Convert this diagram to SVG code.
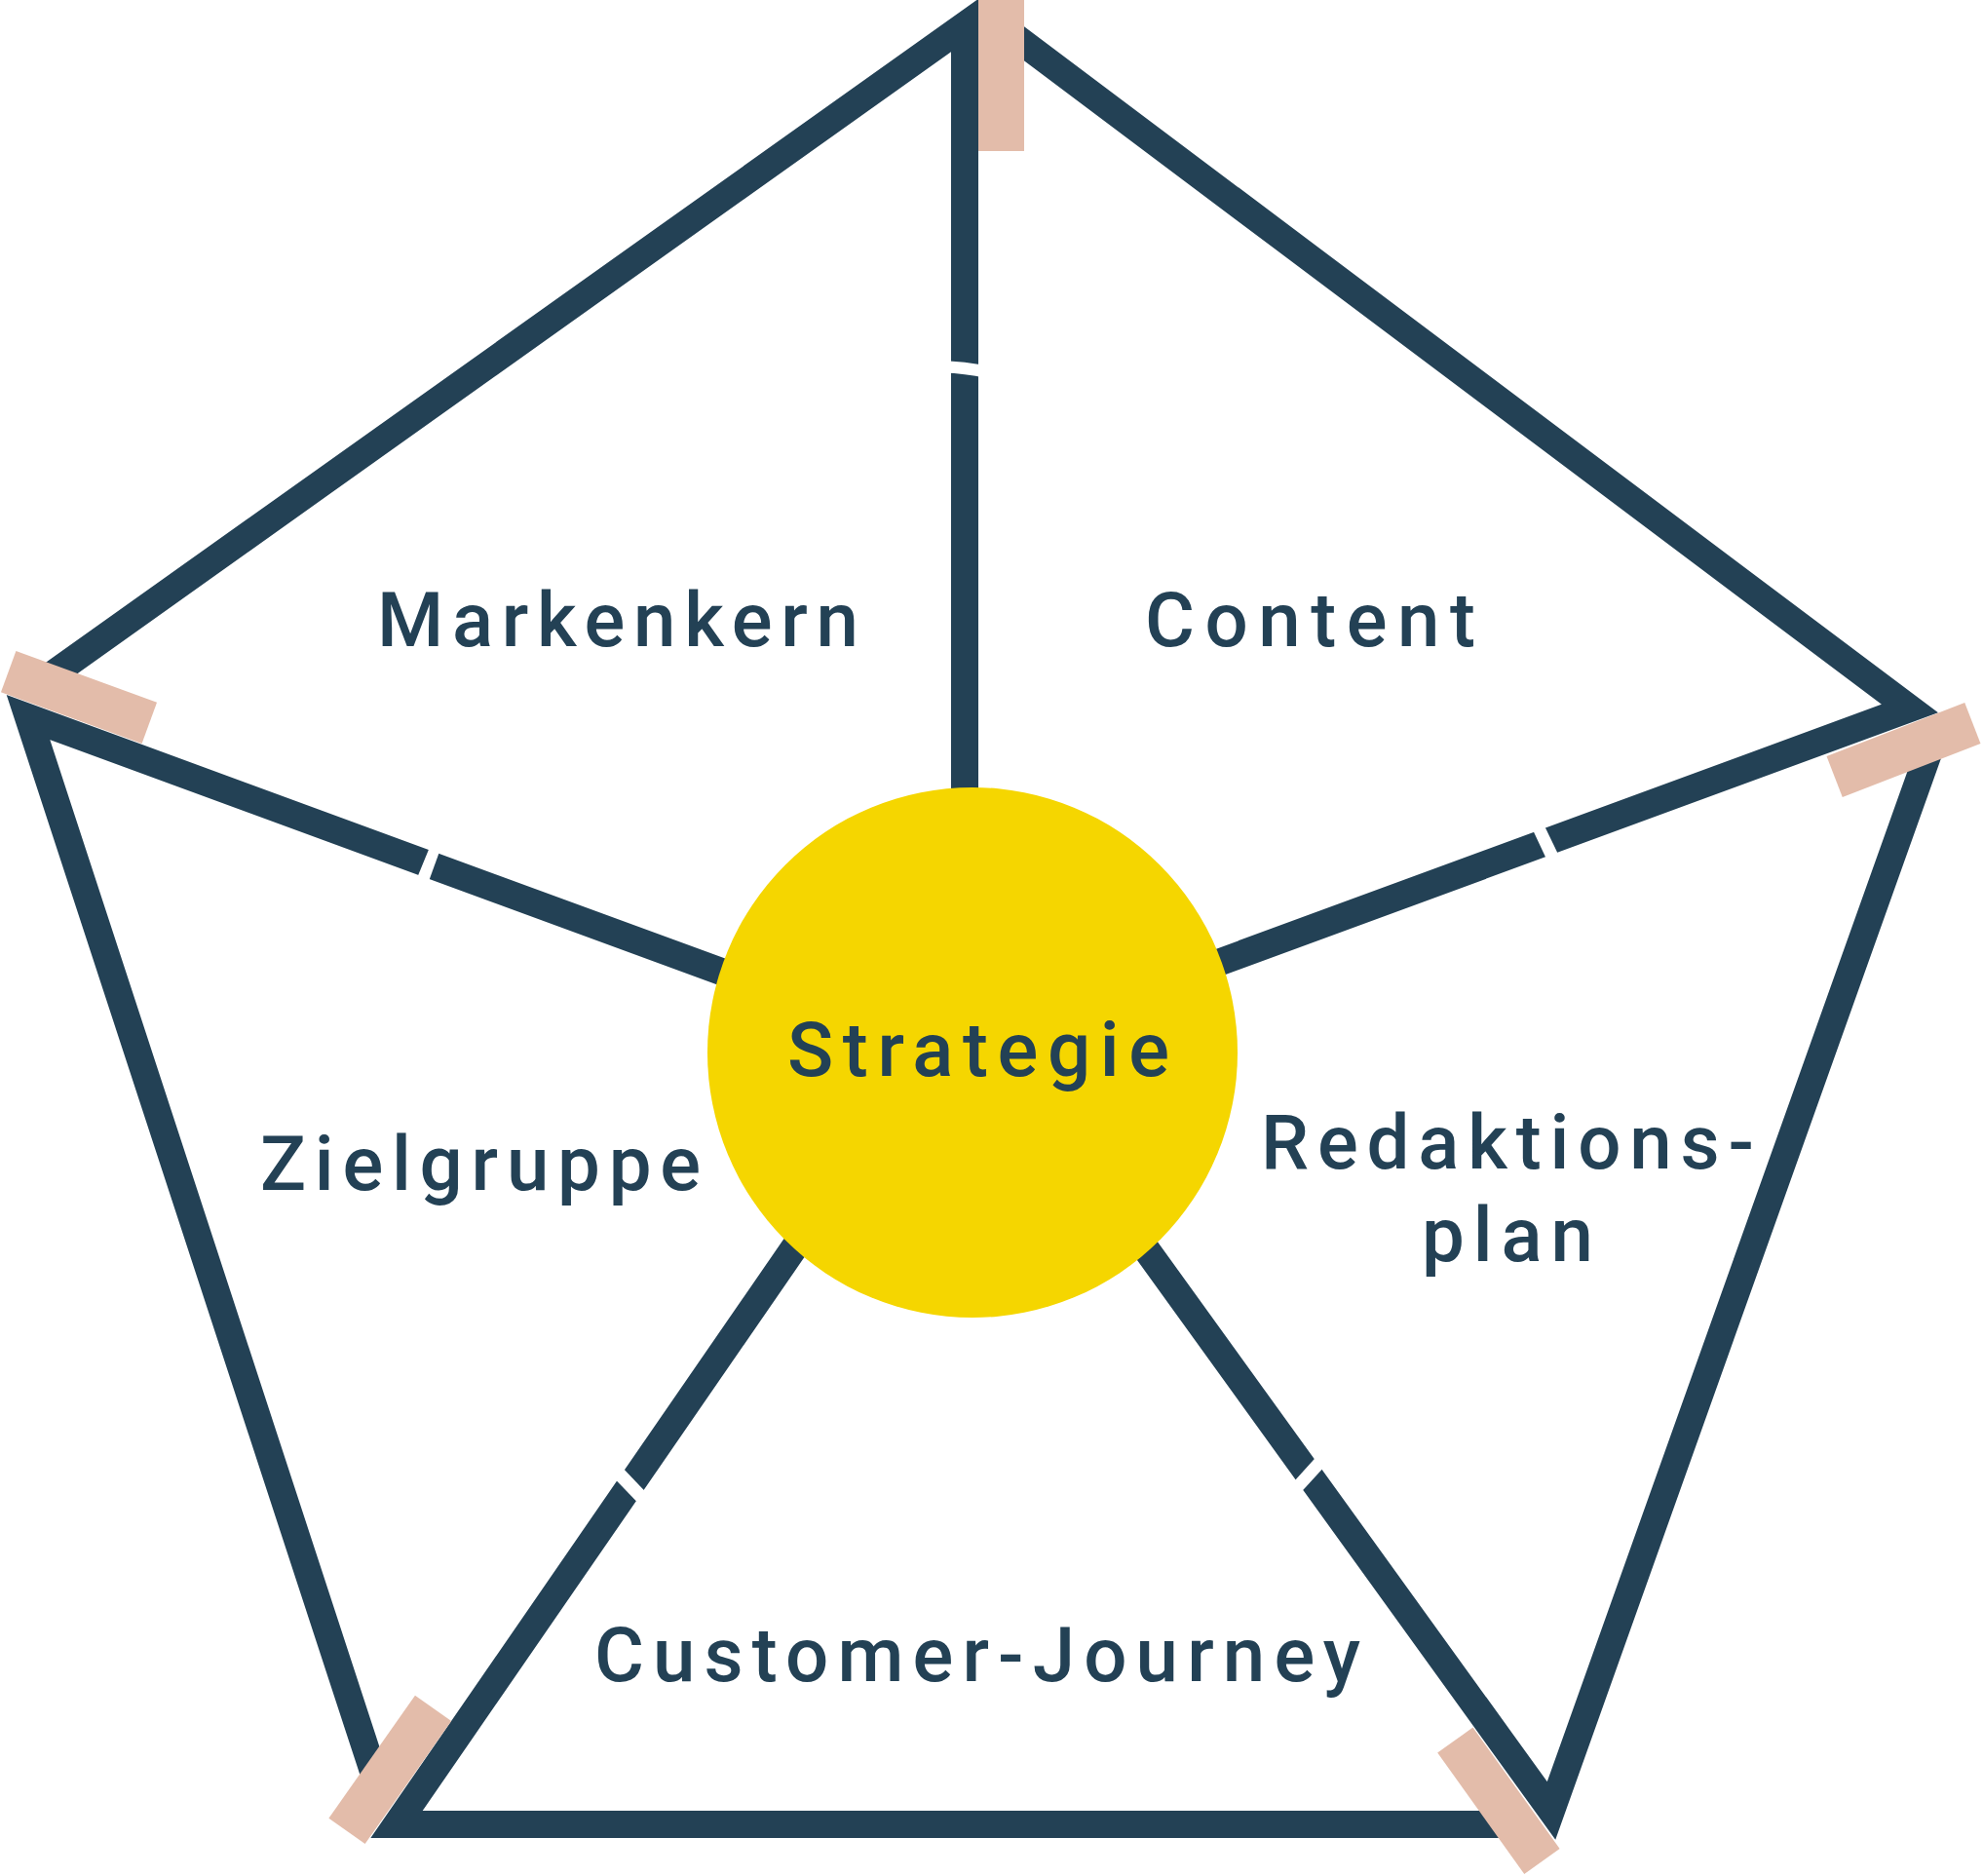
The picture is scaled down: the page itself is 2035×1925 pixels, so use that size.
<svg xmlns="http://www.w3.org/2000/svg" width="2035" height="1925" viewBox="0 0 2035 1925">
  <style>
    .ln { fill: none; stroke: #234155; stroke-width: 28; stroke-linejoin: miter; stroke-linecap: butt; stroke-miterlimit: 6; }
    .cut { fill: #ffffff; stroke: none; }
    .tape { fill: #e3bcaa; }
    .lbl { font-family: Roboto, "Open Sans", "Liberation Sans", sans-serif; font-weight: 500; font-size: 78px; fill: #234155; font-variant-ligatures: none; }
  </style>
  <rect x="0" y="0" width="2035" height="1925" fill="#ffffff"/>
  <g id="connectors">
    <path class="ln" d="M 990 900 L 990 26 L 40 702"/>
    <path class="ln" d="M 800 1019 L 29 736 L 387 1830"/>
    <path class="ln" d="M 905 1150 L 407 1872 L 1545 1872"/>
    <path class="ln" d="M 1081 1150 L 1592 1858 L 1980 770"/>
    <path class="ln" d="M 1100 1043 L 1960 727 L 1030 29"/>
    <g id="gaps">
      <path class="cut" d="M 968 370 Q 990 371 1012 375 L 1012 388 Q 990 383 968 382.5 Z"/>
      <polygon class="cut" points="442.3,865.9 452.7,869.2 438,909.8 426.3,905.1"/>
      <polygon class="cut" points="1569.3,843.8 1580.8,838.8 1600.2,878.9 1587.7,882.9"/>
      <polygon class="cut" points="636.2,1503.2 666.5,1535.1 658.8,1546.5 627.8,1514.2"/>
      <polygon class="cut" points="1356.1,1489.1 1363.7,1500.1 1333.9,1532.6 1326.3,1521.9"/>
    </g>
  </g>
  <g id="strategie">
    <circle cx="998" cy="1080" r="272" fill="#f5d600"/>
    <text class="lbl" x="808" y="1104" textLength="392" lengthAdjust="spacing">Strategie</text>
  </g>
  <g id="tapes">
    <rect class="tape" x="1004" y="0" width="47" height="155"/>
    <rect class="tape" x="-77" y="-22.5" width="154" height="45" transform="translate(81 715.5) rotate(20.1)"/>
    <rect class="tape" x="-76" y="-22.5" width="152" height="45" transform="translate(1953.5 769.5) rotate(-21.2)"/>
    <rect class="tape" x="-22.75" y="-77" width="45.5" height="154" transform="translate(400.3 1815.8) rotate(35.1)"/>
    <rect class="tape" x="-22.35" y="-76.5" width="44.7" height="153" transform="translate(1537.9 1847.8) rotate(-35.6)"/>
  </g>
  <g id="markenkern">
    <text class="lbl" x="387" y="663" textLength="494" lengthAdjust="spacing">Markenkern</text>
  </g>
  <g id="content">
    <text class="lbl" x="1175" y="663" textLength="339" lengthAdjust="spacing">Content</text>
  </g>
  <g id="zielgruppe">
    <text class="lbl" x="267" y="1221" textLength="452" lengthAdjust="spacing">Zielgruppe</text>
  </g>
  <g id="redaktionsplan">
    <text class="lbl" x="1294" y="1199" textLength="506" lengthAdjust="spacing">Redaktions-</text>
    <text class="lbl" x="1459" y="1294" textLength="176" lengthAdjust="spacing">plan</text>
  </g>
  <g id="customer-journey">
    <text class="lbl" x="610" y="1725" textLength="786" lengthAdjust="spacing">Customer-Journey</text>
  </g>
</svg>
